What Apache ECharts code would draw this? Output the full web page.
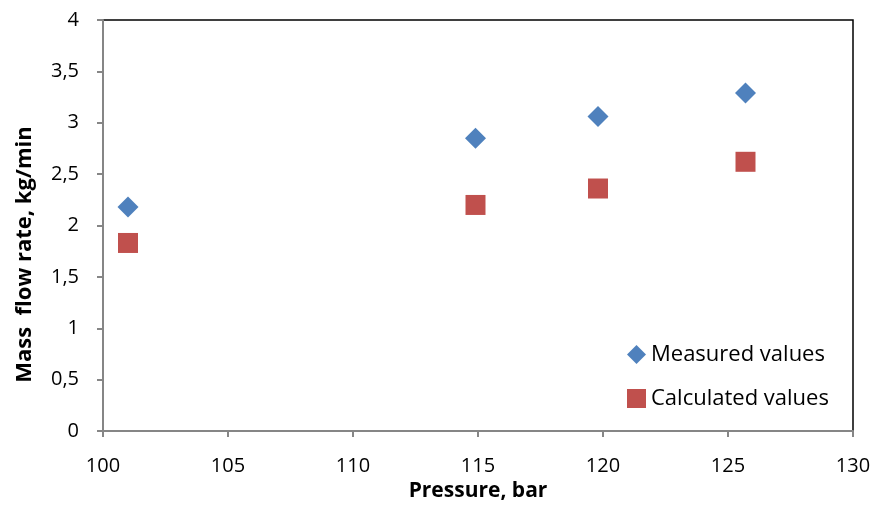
<!DOCTYPE html>
<html>
<head>
<meta charset="utf-8">
<script src="https://cdn.jsdelivr.net/npm/echarts@6/dist/echarts.min.js"></script>
<style>
  html, body { margin: 0; padding: 0; background: #fff; }
  #chart { width: 877px; height: 505px; }
</style>
</head>
<body>
<div id="chart"></div>
<script>
var pressure = [101.0, 114.9, 119.8, 125.7];
var measured = [2.18, 2.85, 3.06, 3.29];
var calculated = [1.83, 2.20, 2.36, 2.62];

var font = 'Open Sans';
var myChart = echarts.init(document.getElementById('chart'));

var option = {
  animation: false,
  textStyle: { fontFamily: font },
  grid: {
    left: 103, right: 24, top: 20, bottom: 74,
    outerBoundsMode: 'none',
    show: true, borderColor: '#000', borderWidth: 1.5
  },
  legend: {
    orient: 'vertical',
    left: 622, top: 338,
    itemWidth: 19, itemHeight: 19,
    itemGap: 21,
    textStyle: { fontFamily: font, fontSize: 22, lineHeight: 23, color: '#000' },
    data: [
      { name: 'Measured values', icon: 'diamond' },
      { name: 'Calculated values', icon: 'rect' }
    ]
  },
  xAxis: {
    type: 'value', min: 100, max: 130, interval: 5,
    name: 'Pressure, bar', nameLocation: 'middle', nameGap: 50,
    nameTextStyle: { fontFamily: font, fontSize: 21, fontWeight: 'bold', color: '#000' },
    axisLine: { lineStyle: { color: '#868686', width: 2 } },
    axisTick: { inside: false, length: 6, lineStyle: { color: '#868686', width: 2 } },
    axisLabel: { fontSize: 20, color: '#000', margin: 25 },
    splitLine: { show: false }
  },
  yAxis: {
    type: 'value', min: 0, max: 4, interval: 0.5,
    name: 'Mass  flow rate, kg/min', nameLocation: 'middle', nameGap: 67,
    nameTextStyle: {
      fontFamily: font, fontSize: 22, fontWeight: 'bold', color: '#000',
      padding: [0, 58, 0, 0]
    },
    axisLine: { show: true, lineStyle: { color: '#868686', width: 2 } },
    axisTick: { show: true, length: 6, lineStyle: { color: '#868686', width: 2 } },
    axisLabel: {
      fontSize: 20, color: '#000', margin: 24,
      formatter: function (v) { return String(v).replace('.', ','); }
    },
    splitLine: { show: false }
  },
  series: [
    {
      name: 'Measured values', type: 'scatter', symbol: 'diamond', symbolSize: 21,
      itemStyle: { color: '#4F81BD', opacity: 1 },
      data: pressure.map(function (p, i) { return [p, measured[i]]; })
    },
    {
      name: 'Calculated values', type: 'scatter', symbol: 'rect', symbolSize: 20,
      itemStyle: { color: '#C0504D', opacity: 1 },
      data: pressure.map(function (p, i) { return [p, calculated[i]]; })
    }
  ]
};

myChart.setOption(option);
</script>
</body>
</html>
